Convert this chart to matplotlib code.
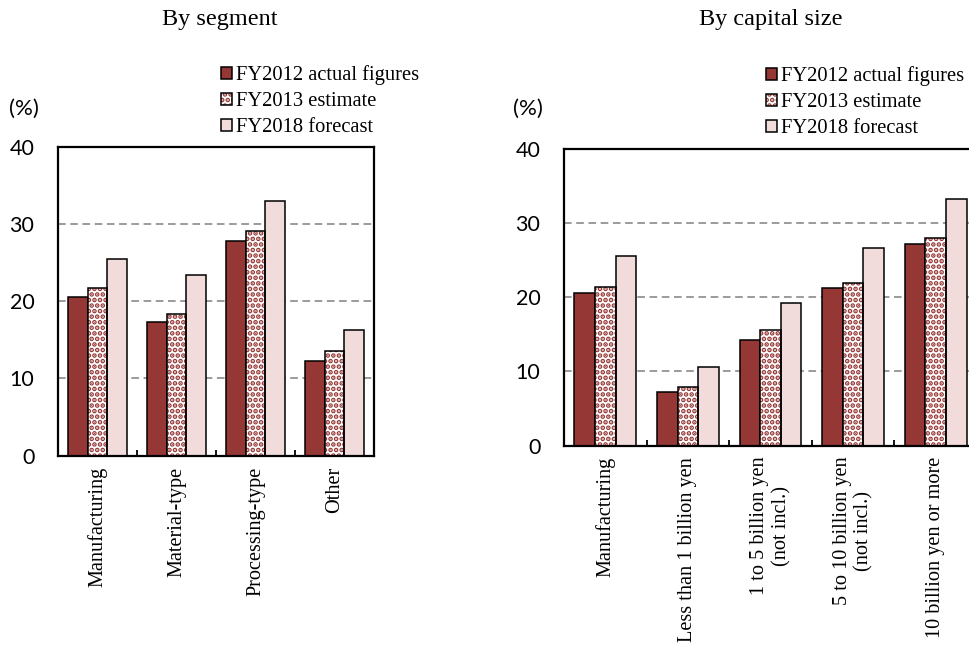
import numpy as np
import matplotlib
matplotlib.use('Agg')
import matplotlib.pyplot as plt
from matplotlib.patches import Patch
from matplotlib.legend_handler import HandlerTuple

plt.rcParams['font.family'] = ['Lato', 'DejaVu Sans']
plt.rcParams['hatch.linewidth'] = 2.4

SERIF = ['Liberation Serif', 'DejaVu Serif']

# 業種別
seg_cats = ['Manufacturing', 'Material-type', 'Processing-type', 'Other']
seg_2012 = [20.6, 17.3, 27.8, 12.3]
seg_2013 = [21.7, 18.4, 29.1, 13.5]
seg_2018 = [25.4, 23.4, 33.0, 16.3]

# 資本金規模別
cap_cats = ['Manufacturing', 'Less than 1 billion yen',
            '1 to 5 billion yen\n(not incl.)', '5 to 10 billion yen\n(not incl.)',
            '10 billion yen or more']
cap_2012 = [20.6, 7.2, 14.2, 21.3, 27.1]
cap_2013 = [21.4, 7.9, 15.6, 21.9, 28.0]
cap_2018 = [25.5, 10.6, 19.2, 26.6, 33.2]

series_labels = ['FY2012 actual figures', 'FY2013 estimate', 'FY2018 forecast']
yticks = [0, 10, 20, 30, 40]

DARK = '#953735'
PINK = '#F2DCDB'

W, H = 970, 646
fig = plt.figure(figsize=(W / 100, H / 100), dpi=100)


def px_axes(x0, y_top, width, y_bot):
    return fig.add_axes([x0 / W, 1 - y_bot / H, width / W, (y_bot - y_top) / H])


def draw_panel(ax, cats, v12, v13, v18):
    n = len(cats)
    x = np.arange(n) + 0.5
    bw = 0.25
    ax.bar(x - bw, v12, bw, color=DARK, edgecolor='black', linewidth=1.1, zorder=3)
    # 点描パターン（ハッチ）と黒枠を重ねて描く
    ax.bar(x, v13, bw, color='white', edgecolor=DARK, hatch='...', linewidth=0, zorder=3)
    ax.bar(x, v13, bw, fill=False, edgecolor='black', linewidth=1.1, zorder=4)
    ax.bar(x + bw, v18, bw, color=PINK, edgecolor='black', linewidth=1.1, zorder=3)

    ax.set_xlim(0, n)
    ax.set_ylim(0, 40)
    ax.set_yticks(yticks)
    ax.tick_params(axis='y', length=0, pad=17, labelsize=15.5)
    ax.set_xticks(x)
    ax.set_xticklabels(cats, rotation=90, family=SERIF, fontsize=14.6,
                       ha='center', va='top', multialignment='center')
    ax.set_xticks(np.arange(1, n), minor=True)
    ax.tick_params(axis='x', which='major', length=0, pad=8)
    ax.tick_params(axis='x', which='minor', direction='in', length=4, width=1.3)
    ax.yaxis.grid(True, color='#808080', linestyle=(0, (5, 3)), linewidth=1.1, zorder=0)
    ax.set_axisbelow(True)
    for s in ax.spines.values():
        s.set_linewidth(1.6)
        s.set_zorder(5)


ax1 = px_axes(58, 146.7, 316, 455.7)
draw_panel(ax1, seg_cats, seg_2012, seg_2013, seg_2018)

ax2 = px_axes(564, 148.7, 413, 445.7)
draw_panel(ax2, cap_cats, cap_2012, cap_2013, cap_2018)

# タイトルと単位
fig.text(220 / W, 1 - 19 / H, 'By segment', family=SERIF, fontsize=17.5, ha='center', va='center')
fig.text(771 / W, 1 - 19 / H, 'By capital size', family=SERIF, fontsize=17.5, ha='center', va='center')
fig.text(24 / W, 1 - 109 / H, '(%)', fontsize=16, ha='center', va='center')
fig.text(528 / W, 1 - 109 / H, '(%)', fontsize=16, ha='center', va='center')

# 凡例
h12 = Patch(facecolor=DARK, edgecolor='black', linewidth=1.1)
h13 = (Patch(facecolor='white', edgecolor=DARK, hatch='...', linewidth=0),
       Patch(fill=False, edgecolor='black', linewidth=1.1))
h18 = Patch(facecolor=PINK, edgecolor='black', linewidth=1.1)
for lx, ly in [(221, 65), (766, 66)]:
    fig.legend([h12, h13, h18], series_labels, loc='upper left',
               bbox_to_anchor=(lx / W, 1 - ly / H), frameon=False,
               prop={'family': SERIF, 'size': 14.8}, handlelength=0.53, handleheight=0.53,
               handletextpad=0.22, labelspacing=0.35, borderpad=0, borderaxespad=0,
               handler_map={tuple: HandlerTuple(ndivide=1)})

fig.savefig('out.png', dpi=100)
